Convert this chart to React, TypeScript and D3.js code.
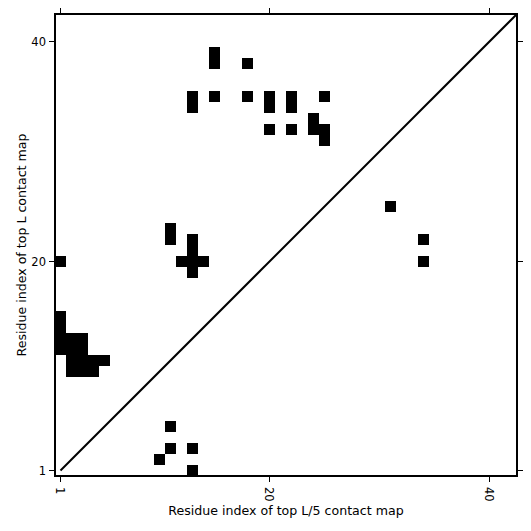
import React from "react";
import * as d3 from "d3";

// Contact cells (column = residue index on x, row = residue index on y)
const contactX = [15, 15, 18, 13, 13, 15, 18, 20, 20, 20, 22, 22, 22, 25, 24, 24, 25, 25, 31, 34, 34, 11, 11, 13, 13, 13, 13, 12, 14, 1, 1, 1, 1, 1, 2, 2, 2, 2, 3, 3, 3, 3, 4, 4, 5, 11, 11, 10, 13, 13];
const contactY = [38, 39, 38, 34, 35, 35, 35, 34, 35, 32, 34, 35, 32, 35, 32, 33, 31, 32, 25, 22, 20, 22, 23, 19, 20, 21, 22, 20, 20, 20, 12, 13, 14, 15, 10, 11, 12, 13, 10, 11, 12, 13, 10, 11, 11, 5, 3, 2, 3, 1];
const tickValues = [1, 20, 40];
const xLabel = "Residue index of top L/5 contact map";
const yLabel = "Residue index of top L contact map";

export default function App() {
  const W = 531, H = 531;
  const left = 55, right = 517, top = 14, bottom = 476;
  const x = d3.scaleLinear().domain([0.5, 42.5]).range([left, right]);
  const y = d3.scaleLinear().domain([0.5, 42.5]).range([bottom, top]);
  const font = "DejaVu Sans, sans-serif";
  const fs = 11.5;
  const lfs = 12.6;
  const cells = contactX.map((c, i) => ({ c, r: contactY[i] }));
  return (
    <svg width={W} height={H} style={{ position: "absolute", left: 0, top: 0 }}>
      <rect x={0} y={0} width={W} height={H} fill="#fff" />
      {cells.map((d, i) => (
        <rect
          key={i}
          x={x(d.c - 0.5)}
          y={y(d.r + 0.5)}
          width={x(d.c + 0.5) - x(d.c - 0.5)}
          height={y(d.r - 0.5) - y(d.r + 0.5)}
          fill="#000"
          shapeRendering="crispEdges"
        />
      ))}
      <line x1={x(1)} y1={y(1)} x2={x(42.5)} y2={y(42.5)} stroke="#000" strokeWidth={2} />
      <rect x={left} y={top} width={right - left} height={bottom - top} fill="none" stroke="#000" strokeWidth={2} />
      {tickValues.map((t) => (
        <g key={"t" + t}>
          <line x1={x(t)} x2={x(t)} y1={bottom} y2={bottom + 6} stroke="#000" strokeWidth={1} />
          <line x1={x(t)} x2={x(t)} y1={top} y2={top - 6} stroke="#000" strokeWidth={1} />
          <line x1={left} x2={left - 6} y1={y(t)} y2={y(t)} stroke="#000" strokeWidth={1} />
          <line x1={right} x2={right + 6} y1={y(t)} y2={y(t)} stroke="#000" strokeWidth={1} />
          <text
            x={left - 9}
            y={y(t)}
            dy="0.35em"
            textAnchor="end"
            fontFamily={font}
            fontSize={fs}
          >
            {t}
          </text>
          <text
            transform={`translate(${x(t)},${bottom + 11}) rotate(90)`}
            dy="0.35em"
            textAnchor="start"
            fontFamily={font}
            fontSize={fs}
          >
            {t}
          </text>
        </g>
      ))}
      <text x={(left + right) / 2} y={515} textAnchor="middle" fontFamily={font} fontSize={lfs}>
        {xLabel}
      </text>
      <text
        transform={`translate(${26},${(top + bottom) / 2}) rotate(-90)`}
        textAnchor="middle"
        fontFamily={font}
        fontSize={lfs}
      >
        {yLabel}
      </text>
    </svg>
  );
}
